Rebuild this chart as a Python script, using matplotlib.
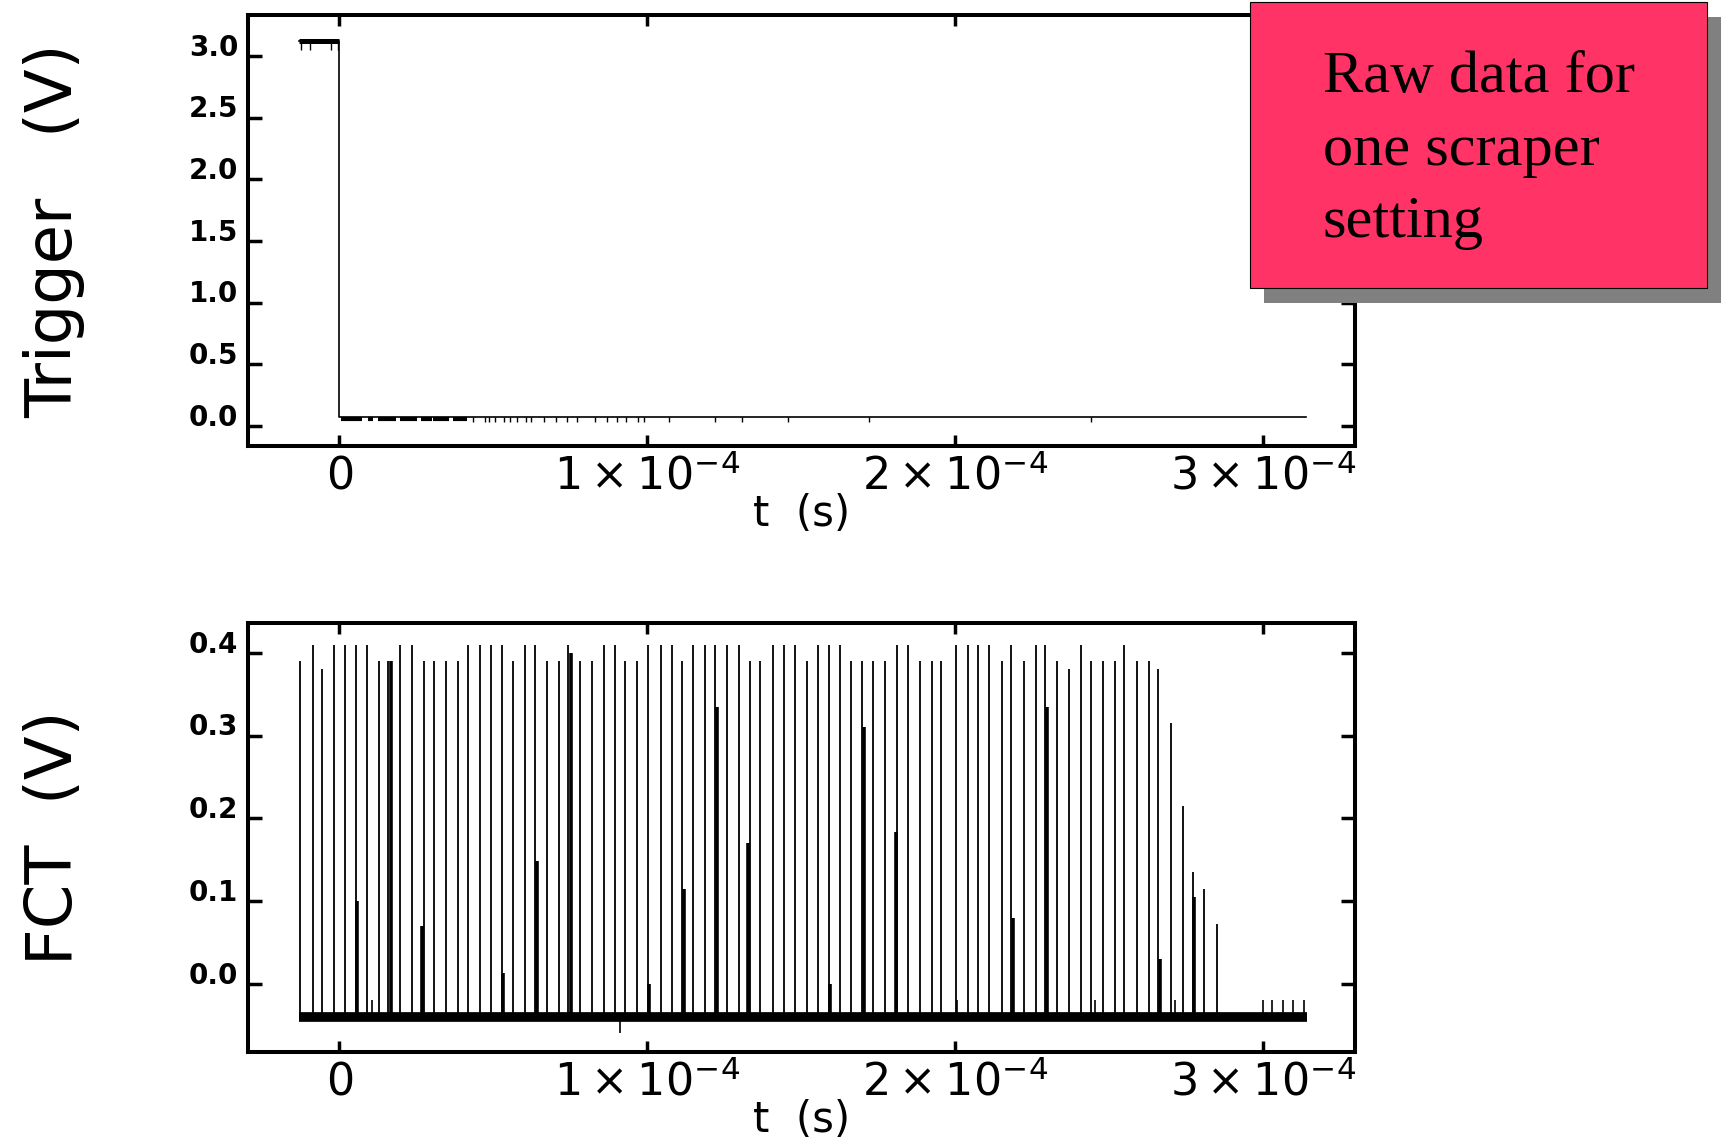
import matplotlib

matplotlib.use("Agg")
import matplotlib.pyplot as plt
from matplotlib.patches import Rectangle
from matplotlib.ticker import FixedLocator, FixedFormatter
from matplotlib.transforms import ScaledTranslation
import numpy as np

# Times are in microseconds, voltages in volts.
trigger_high_t = [-13.2, 0.0]
trigger_high_v = 3.12
trigger_low_t = [0.0, 313.9]
trigger_low_v = 0.07
trigger_high_dips_t = [-12.5, -9.6, -2.5, -0.4]
trigger_high_dip_v = 3.05
trigger_low_blocks = [
    (0.6, 7.5), (9.2, 11.0), (12.7, 18.5), (19.7, 25.4),
    (26.6, 30.1), (30.6, 35.8), (37.0, 41.6),
]
trigger_low_ticks_t = [
    43.4, 47.4, 48.6, 50.6, 53.4, 55.3, 57.8, 60.7, 62.4, 66.5, 70.3,
    74.0, 77.2, 83.0, 86.9, 90.2, 93.1, 97.1, 98.8, 106.9, 122.0,
    130.6, 145.7, 172.0, 244.0,
]
trigger_low_tick_v = 0.035

fct_span_t = [-13.0, 314.0]
fct_baseline_v = -0.04

fct_spike_t = [
    -12.7, -8.6, -5.6, -1.7, 2.0, 5.3, 9.1, 12.9, 15.8, 19.9,
    23.7, 27.6, 30.9, 34.7, 38.6, 41.7, 45.6, 49.4, 52.9, 56.4,
    60.3, 63.7, 67.3, 71.2, 74.4, 78.3, 82.0, 86.0, 89.5, 92.9,
    96.7, 100.3, 104.3, 107.9, 111.4, 114.8, 118.6, 121.9, 125.9, 129.8,
    133.5, 136.7, 140.7, 144.5, 147.9, 151.7, 155.4, 159.0, 162.6, 166.2,
    169.8, 173.4, 177.2, 181.0, 184.5, 188.5, 192.4, 195.5, 200.2, 204.0,
    207.3, 211.0, 215.0, 218.1, 222.2, 226.1, 229.1, 232.9, 237.0, 240.9,
    244.0, 247.8, 251.8, 254.9, 258.8, 262.7, 265.8, 269.9, 273.8, 277.0,
    280.6, 284.9,
]
fct_spike_v = [
    0.39, 0.41, 0.38, 0.41, 0.41, 0.41, 0.41, 0.39, 0.39, 0.41,
    0.41, 0.39, 0.39, 0.39, 0.39, 0.41, 0.41, 0.41, 0.41, 0.39,
    0.41, 0.41, 0.39, 0.39, 0.41, 0.39, 0.39, 0.41, 0.41, 0.39,
    0.39, 0.41, 0.41, 0.41, 0.39, 0.41, 0.41, 0.41, 0.41, 0.41,
    0.39, 0.39, 0.41, 0.41, 0.41, 0.39, 0.41, 0.41, 0.41, 0.39,
    0.39, 0.39, 0.39, 0.41, 0.41, 0.39, 0.39, 0.39, 0.41, 0.41,
    0.41, 0.41, 0.39, 0.41, 0.39, 0.41, 0.41, 0.39, 0.38, 0.41,
    0.39, 0.39, 0.39, 0.41, 0.39, 0.39, 0.38, 0.315, 0.215, 0.135,
    0.115, 0.072,
]
fct_double_t = [5.7, 16.7, 27.0, 53.2, 64.2, 75.1, 100.7, 111.8, 122.6,
                132.8, 159.3, 170.2, 180.6, 218.6, 229.6, 266.4, 277.5]
fct_double_v = [0.10, 0.39, 0.07, 0.013, 0.148, 0.40, 0.0, 0.115, 0.335,
                0.17, 0.0, 0.31, 0.183, 0.08, 0.335, 0.03, 0.105]
fct_glitch_t = [10.8, 91.2, 200.5, 245.4, 271.2, 299.7, 302.9, 306.5,
                309.7, 313.2]
fct_glitch_v = [-0.02, -0.06, -0.02, -0.02, -0.02, -0.02, -0.02, -0.02,
                -0.02, -0.02]

x_ticks = [0.0, 1e-4, 2e-4, 3e-4]
x_tick_labels = [r"$0$", r"$1\times10^{-4}$", r"$2\times10^{-4}$",
                 r"$3\times10^{-4}$"]
trigger_y_ticks = [0.0, 0.5, 1.0, 1.5, 2.0, 2.5, 3.0]
fct_y_ticks = [0.0, 0.1, 0.2, 0.3, 0.4]

note_lines = ["Raw data for", "one scraper", "setting"]

US = 1e-6


def style_axis(fig, ax, y_ticks, y_label):
    ax.set_xlim(-0.296e-4, 3.297e-4)
    ax.xaxis.set_major_locator(FixedLocator(x_ticks))
    ax.xaxis.set_major_formatter(FixedFormatter(x_tick_labels))
    ax.yaxis.set_major_locator(FixedLocator(y_ticks))
    ax.yaxis.set_major_formatter(FixedFormatter([f"{v:.1f}" for v in y_ticks]))

    for spine in ax.spines.values():
        spine.set_linewidth(2.9)

    ax.tick_params(axis="both", which="major", direction="in",
                   top=True, right=True, width=2.5)
    ax.tick_params(axis="x", length=8, pad=6, labelsize=32)
    ax.tick_params(axis="y", length=10, pad=7, labelsize=20)
    for label in ax.get_yticklabels():
        label.set_fontweight("bold")
        label.set_transform(
            label.get_transform()
            + ScaledTranslation(0, 8 / 72, fig.dpi_scale_trans)
        )

    ax.set_xlabel("t  (s)", fontsize=30)
    ax.xaxis.set_label_coords(0.5, -0.158)
    ax.xaxis.label.set_va("center")

    ax.set_ylabel(y_label, fontsize=46)
    ax.yaxis.set_label_coords(-0.175, 0.5)
    ax.yaxis.label.set_va("center")


def main():
    fig = plt.figure(figsize=(17.21, 11.45), dpi=100)
    ax_trig = fig.add_axes([0.1441, 0.6105, 0.6432, 0.3764])
    ax_fct = fig.add_axes([0.1441, 0.0808, 0.6432, 0.3751])

    # Trigger trace
    ax_trig.plot(
        [trigger_high_t[0] * US, trigger_high_t[1] * US,
         trigger_low_t[0] * US, trigger_low_t[1] * US],
        [trigger_high_v, trigger_high_v, trigger_low_v, trigger_low_v],
        color="black", linewidth=1.2,
    )
    ax_trig.plot(np.array(trigger_high_t) * US, [trigger_high_v] * 2,
                 color="black", linewidth=3.6, solid_capstyle="butt")
    ax_trig.vlines(np.array(trigger_high_dips_t) * US, trigger_high_dip_v,
                   trigger_high_v, color="black", linewidth=1.0)
    for start, end in trigger_low_blocks:
        ax_trig.plot([start * US, end * US], [0.055, 0.055],
                     color="black", linewidth=3.0, solid_capstyle="butt")
    ax_trig.vlines(np.array(trigger_low_ticks_t) * US, trigger_low_tick_v,
                   trigger_low_v, color="black", linewidth=1.0)
    ax_trig.set_ylim(-0.163, 3.332)
    style_axis(fig, ax_trig, trigger_y_ticks, "Trigger   (V)")

    # FCT trace
    ax_fct.plot(np.array(fct_span_t) * US, [fct_baseline_v] * 2,
                color="black", linewidth=7.0, solid_capstyle="butt")
    ax_fct.vlines(np.array(fct_spike_t) * US, fct_baseline_v, fct_spike_v,
                  color="black", linewidth=1.3)
    ax_fct.vlines(np.array(fct_double_t) * US, fct_baseline_v, fct_double_v,
                  color="black", linewidth=2.6)
    ax_fct.vlines(np.array(fct_glitch_t) * US, fct_baseline_v, fct_glitch_v,
                  color="black", linewidth=1.2)
    ax_fct.set_ylim(-0.083, 0.436)
    style_axis(fig, ax_fct, fct_y_ticks, "FCT  (V)")

    # Note box with drop shadow
    fig.add_artist(Rectangle((0.7345, 0.7354), 0.2655, 0.2498,
                             transform=fig.transFigure, facecolor="#808080",
                             edgecolor="none", zorder=5))
    fig.add_artist(Rectangle((0.7263, 0.7485), 0.2655, 0.2498,
                             transform=fig.transFigure, facecolor="#ff3366",
                             edgecolor="black", linewidth=0.8, zorder=6))
    for i, line in enumerate(note_lines):
        fig.text(0.7687, 0.9197 - i * 0.0634, line, fontsize=43.5,
                 family="Liberation Serif", va="baseline", ha="left",
                 zorder=7)

    fig.savefig("out.png", dpi=100)
    plt.close(fig)


if __name__ == "__main__":
    main()
